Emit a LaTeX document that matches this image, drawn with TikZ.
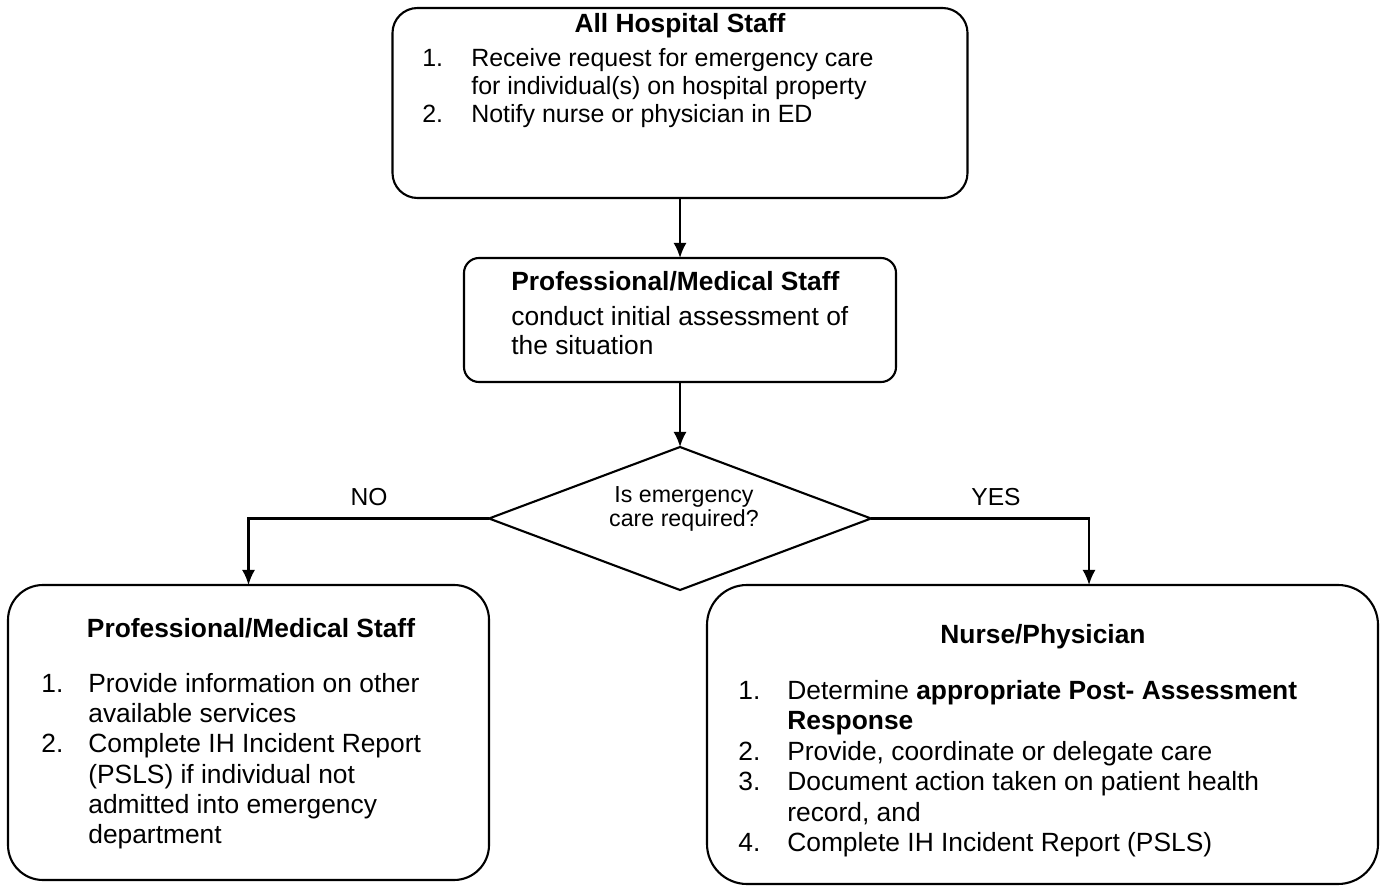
\documentclass[tikz,border=0pt]{standalone}
\usepackage{fontspec}
\setmainfont{Liberation Sans}
\usetikzlibrary{shapes.geometric,arrows.meta}

\tikzset{
    staffbox/.style={draw, line width=1.2pt, inner sep=0pt, outer sep=0pt},
    decision/.style={draw, diamond, line width=1.2pt, inner sep=0pt, outer sep=0pt,
        minimum width=7.64cm, minimum height=2.86cm},
    flow/.style={-{Latex[length=3mm,width=2.6mm]}, line width=1.2pt},
    boxtitle/.style={anchor=base, inner sep=0pt, font=\fontsize{15}{17}\selectfont\bfseries},
    boxlist/.style={anchor=base west, inner sep=0pt, font=\fontsize{15}{17.2}\selectfont},
}

\begin{document}
\begin{tikzpicture}
    \useasboundingbox (0,0) rectangle (27.66,17.72);

    % All hospital staff
    \node [staffbox, rounded corners=0.5cm,
        minimum width=11.5cm,
        minimum height=3.8cm
    ] (hospBox) at (13.6,15.66) {};
    \node [boxtitle] (hospTitle) at (13.6,17.06) {All Hospital Staff};
    \node [boxlist, font=\fontsize{14.2}{15.9}\selectfont] (hospList) at (8.44,16.38)
    {\begin{tabular}[t]{@{}p{0.98cm}@{}l@{}}
        1. & Receive request for emergency care\\
           & for individual(s) on hospital property\\
        2. & Notify nurse or physician in ED
    \end{tabular}};

    % Initial assessment
    \node [staffbox, rounded corners=0.3cm,
        minimum width=8.64cm,
        minimum height=2.48cm
    ] (medBox) at (13.6,11.32) {};
    \node [boxlist, font=\fontsize{15}{16.4}\selectfont] (medList) at (10.22,11.9)
    {\begin{tabular}[t]{@{}l@{}}
        \textbf{Professional/Medical Staff}\\[0.12cm]
        conduct initial assessment of\\
        the situation
    \end{tabular}};

    % Decision
    \node [decision] (askDia) at (13.6,7.35) {};
    \node [inner sep=0pt, align=center, font=\fontsize{13.2}{13.8}\selectfont]
        (askTxt) at (13.68,7.54) {Is emergency\\care required?};
    \node [font=\fontsize{14}{16}\selectfont] (noLbl) at (7.38,7.78) {NO};
    \node [font=\fontsize{14}{16}\selectfont] (yesLbl) at (19.92,7.78) {YES};

    % No emergency care
    \node [staffbox, rounded corners=0.7cm,
        minimum width=9.62cm,
        minimum height=5.9cm
    ] (noBox) at (4.97,3.07) {};
    \node [boxtitle] (noTitle) at (5.02,4.97) {Professional/Medical Staff};
    \node [boxlist] (noList) at (0.82,3.87)
    {\begin{tabular}[t]{@{}p{0.94cm}@{}l@{}}
        1. & Provide information on other\\
           & available services\\
        2. & Complete IH Incident Report\\
           & (PSLS) if individual not\\
           & admitted into emergency\\
           & department
    \end{tabular}};

    % Emergency care
    \node [staffbox, rounded corners=0.8cm,
        minimum width=13.42cm,
        minimum height=5.98cm
    ] (yesBox) at (20.85,3.03) {};
    \node [boxtitle] (yesTitle) at (20.86,4.85) {Nurse/Physician};
    \node [boxlist, font=\fontsize{15}{17.3}\selectfont] (yesList) at (14.76,3.73)
    {\begin{tabular}[t]{@{}p{0.98cm}@{}l@{}}
        1. & Determine \textbf{appropriate Post- Assessment}\\
           & \textbf{Response}\\
        2. & Provide, coordinate or delegate care\\
        3. & Document action taken on patient health\\
           & record, and\\
        4. & Complete IH Incident Report (PSLS)
    \end{tabular}};

    % Connectors
    \draw [flow] (hospBox.south) -- (medBox.north);
    \draw [flow] (medBox.south) -- (askDia.north);
    \draw [flow] (askDia.west) -| (noBox.north);
    \draw [flow] (askDia.east) -| ([xshift=0.93cm]yesBox.north);

\end{tikzpicture}
\end{document}
